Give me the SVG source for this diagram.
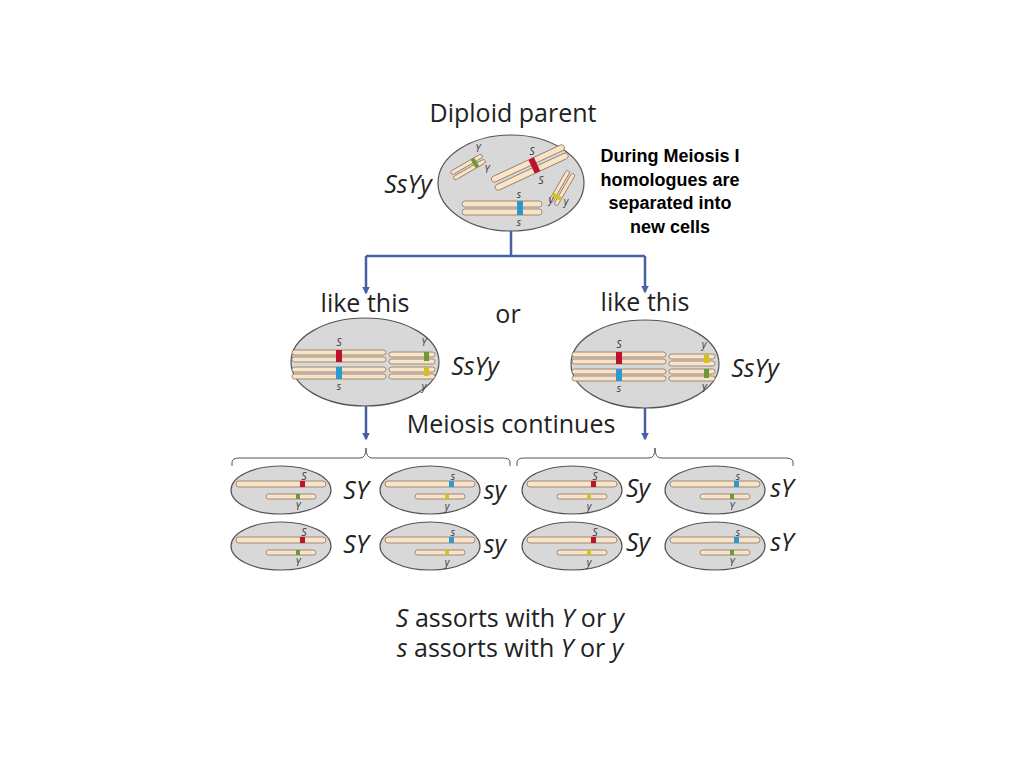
<svg xmlns="http://www.w3.org/2000/svg" width="1024" height="768" viewBox="0 0 1024 768">
<style>
.t{font-family:"Open Sans","DejaVu Sans",sans-serif;fill:#222;font-size:25px;text-anchor:middle}
.i{font-style:italic}
.s{font-family:"Open Sans",sans-serif;font-style:italic;font-size:10px;fill:#333;text-anchor:middle}
.cell{fill:#d8d8d8;stroke:#555;stroke-width:1.2}
.ch{fill:#fbe3c8;stroke:#8a7560;stroke-width:0.8}
.ln{stroke:#4a5fa8;stroke-width:2.5;fill:none}
.br{stroke:#555;stroke-width:1;fill:none}
.a{font-family:"Liberation Sans",Arial,sans-serif;font-weight:bold;font-size:18px;text-anchor:middle;fill:#000}
</style>
<defs>
<marker id="ar" viewBox="0 0 10 10" refX="8" refY="5" markerWidth="3" markerHeight="3" orient="auto"><path d="M0,0L10,5L0,10z" fill="#4a5fa8"/></marker>
<g id="g1"><rect class="ch" x="-45" y="-9" width="90" height="6" rx="3"/><rect class="ch" x="-15" y="4" width="50" height="5" rx="2.5"/></g>
<g id="pair">
<rect class="ch" x="-72" y="-14" width="94" height="5" rx="2.5"/><rect class="ch" x="-72" y="-7" width="94" height="5" rx="2.5"/><rect class="ch" x="-72" y="3" width="94" height="5" rx="2.5"/><rect class="ch" x="-72" y="10" width="94" height="5" rx="2.5"/>
<rect class="ch" x="25" y="-12" width="46" height="5" rx="2.5"/><rect class="ch" x="25" y="-5" width="46" height="5" rx="2.5"/><rect class="ch" x="25" y="3" width="46" height="5" rx="2.5"/><rect class="ch" x="25" y="10" width="46" height="5" rx="2.5"/>
</g>
</defs>
<rect width="1024" height="768" fill="#fff"/>
<text class="t" x="513" y="122">Diploid parent</text>
<g id="parent">
<ellipse class="cell" cx="511" cy="183" rx="73" ry="48"/>
<g transform="rotate(-25 530 168)"><rect class="ch" x="490" y="160" width="80" height="6" rx="3"/><rect class="ch" x="490" y="169" width="80" height="6" rx="3"/><rect x="532" y="160" width="6" height="15" fill="#c01030"/></g>
<g transform="rotate(-30 468 167)"><rect class="ch" x="450" y="162" width="36" height="4" rx="2"/><rect class="ch" x="450" y="168" width="36" height="4" rx="2"/><rect x="474" y="162" width="4" height="10" fill="#6a9a30"/></g>
<g transform="rotate(-60 562 188)"><rect class="ch" x="544" y="183" width="36" height="4" rx="2"/><rect class="ch" x="544" y="189" width="36" height="4" rx="2"/><rect x="550" y="183" width="4" height="10" fill="#d8c020"/></g>
<rect class="ch" x="462" y="201" width="80" height="6" rx="3"/><rect class="ch" x="462" y="209" width="80" height="6" rx="3"/><rect x="517" y="201" width="6" height="14" fill="#2a9ad0"/>
<text class="s" x="478" y="152">Y</text><text class="s" x="487" y="173">Y</text><text class="s" x="532" y="155">S</text><text class="s" x="541" y="184">S</text><text class="s" x="519" y="198">s</text><text class="s" x="519" y="226">s</text><text class="s" x="551" y="203">y</text><text class="s" x="566" y="205">y</text>
</g>
<text class="t i" x="408" y="193">SsYy</text>
<text class="a" x="670" y="162">During Meiosis I</text>
<text class="a" x="670" y="186">homologues are</text>
<text class="a" x="670" y="209">separated into</text>
<text class="a" x="670" y="233">new cells</text>
<g id="connectors">
<path class="ln" d="M511,231V256M366,256H645M645,256V292" marker-end="url(#ar)"/>
<path class="ln" d="M366,256V293" marker-end="url(#ar)"/>
<path class="ln" d="M366,406V439" marker-end="url(#ar)"/>
<path class="ln" d="M645,408V439" marker-end="url(#ar)"/>
<path class="br" d="M232,466V462Q232,458 240,458H360Q366,458 366,448Q366,458 372,458H502Q510,458 510,462V466"/>
<path class="br" d="M517,466V462Q517,458 525,458H649Q655,458 655,448Q655,458 661,458H785Q793,458 793,462V466"/>
</g>
<text class="t" x="365" y="312">like this</text>
<text class="t" x="508" y="323">or</text>
<text class="t" x="645" y="311">like this</text>
<g id="cellA">
<ellipse class="cell" cx="365" cy="362" rx="74" ry="44"/>
<use href="#pair" x="364" y="364"/>
<rect x="336" y="350" width="6" height="12" fill="#c01030"/><rect x="336" y="367" width="6" height="12" fill="#2a9ad0"/>
<rect x="424" y="352" width="5" height="9" fill="#6a9a30"/><rect x="424" y="367" width="5" height="9" fill="#d8c020"/>
<text class="s" x="339" y="346">S</text><text class="s" x="339" y="390">s</text><text class="s" x="424" y="346">Y</text><text class="s" x="424" y="390">y</text>
</g>
<text class="t i" x="475" y="375">SsYy</text>
<g id="cellB">
<ellipse class="cell" cx="645" cy="364" rx="74" ry="44"/>
<use href="#pair" x="644" y="366"/>
<rect x="616" y="352" width="6" height="12" fill="#c01030"/><rect x="616" y="369" width="6" height="12" fill="#2a9ad0"/>
<rect x="704" y="354" width="5" height="9" fill="#d8c020"/><rect x="704" y="369" width="5" height="9" fill="#6a9a30"/>
<text class="s" x="619" y="348">S</text><text class="s" x="619" y="392">s</text><text class="s" x="704" y="348">y</text><text class="s" x="704" y="392">Y</text>
</g>
<text class="t i" x="755" y="377">SsYy</text>
<text class="t" x="511" y="433">Meiosis continues</text>
<g id="g1c"><ellipse class="cell" cx="281" cy="490" rx="50" ry="24"/><use href="#g1" x="281" y="490"/><rect x="300" y="481" width="5" height="6" fill="#c01030"/><rect x="296" y="494" width="4" height="5" fill="#6a9a30"/><text class="s" x="304" y="480">S</text><text class="s" x="298" y="510">Y</text></g>
<g id="g2c"><ellipse class="cell" cx="430" cy="490" rx="50" ry="24"/><use href="#g1" x="430" y="490"/><rect x="449" y="481" width="5" height="6" fill="#2a9ad0"/><rect x="445" y="494" width="4" height="5" fill="#d8c020"/><text class="s" x="453" y="480">s</text><text class="s" x="447" y="510">y</text></g>
<g id="g3c"><ellipse class="cell" cx="281" cy="546" rx="50" ry="24"/><use href="#g1" x="281" y="546"/><rect x="300" y="537" width="5" height="6" fill="#c01030"/><rect x="296" y="550" width="4" height="5" fill="#6a9a30"/><text class="s" x="304" y="536">S</text><text class="s" x="298" y="566">Y</text></g>
<g id="g4c"><ellipse class="cell" cx="430" cy="546" rx="50" ry="24"/><use href="#g1" x="430" y="546"/><rect x="449" y="537" width="5" height="6" fill="#2a9ad0"/><rect x="445" y="550" width="4" height="5" fill="#d8c020"/><text class="s" x="453" y="536">s</text><text class="s" x="447" y="566">y</text></g>
<g id="g5c"><ellipse class="cell" cx="572" cy="490" rx="50" ry="24"/><use href="#g1" x="572" y="490"/><rect x="591" y="481" width="5" height="6" fill="#c01030"/><rect x="587" y="494" width="4" height="5" fill="#d8c020"/><text class="s" x="595" y="480">S</text><text class="s" x="589" y="510">y</text></g>
<g id="g6c"><ellipse class="cell" cx="715" cy="490" rx="50" ry="24"/><use href="#g1" x="715" y="490"/><rect x="734" y="481" width="5" height="6" fill="#2a9ad0"/><rect x="730" y="494" width="4" height="5" fill="#6a9a30"/><text class="s" x="738" y="480">s</text><text class="s" x="732" y="510">Y</text></g>
<g id="g7c"><ellipse class="cell" cx="572" cy="546" rx="50" ry="24"/><use href="#g1" x="572" y="546"/><rect x="591" y="537" width="5" height="6" fill="#c01030"/><rect x="587" y="550" width="4" height="5" fill="#d8c020"/><text class="s" x="595" y="536">S</text><text class="s" x="589" y="566">y</text></g>
<g id="g8c"><ellipse class="cell" cx="715" cy="546" rx="50" ry="24"/><use href="#g1" x="715" y="546"/><rect x="734" y="537" width="5" height="6" fill="#2a9ad0"/><rect x="730" y="550" width="4" height="5" fill="#6a9a30"/><text class="s" x="738" y="536">s</text><text class="s" x="732" y="566">Y</text></g>
<g class="t i">
<text x="356" y="499">SY</text><text x="495" y="499">sy</text><text x="356" y="553">SY</text><text x="495" y="553">sy</text>
<text x="638" y="497">Sy</text><text x="782" y="497">sY</text><text x="638" y="551">Sy</text><text x="782" y="551">sY</text>
</g>
<text class="t" x="510" y="627"><tspan class="i">S</tspan> assorts with <tspan class="i">Y</tspan> or <tspan class="i">y</tspan></text>
<text class="t" x="510" y="657"><tspan class="i">s</tspan> assorts with <tspan class="i">Y</tspan> or <tspan class="i">y</tspan></text>
</svg>
